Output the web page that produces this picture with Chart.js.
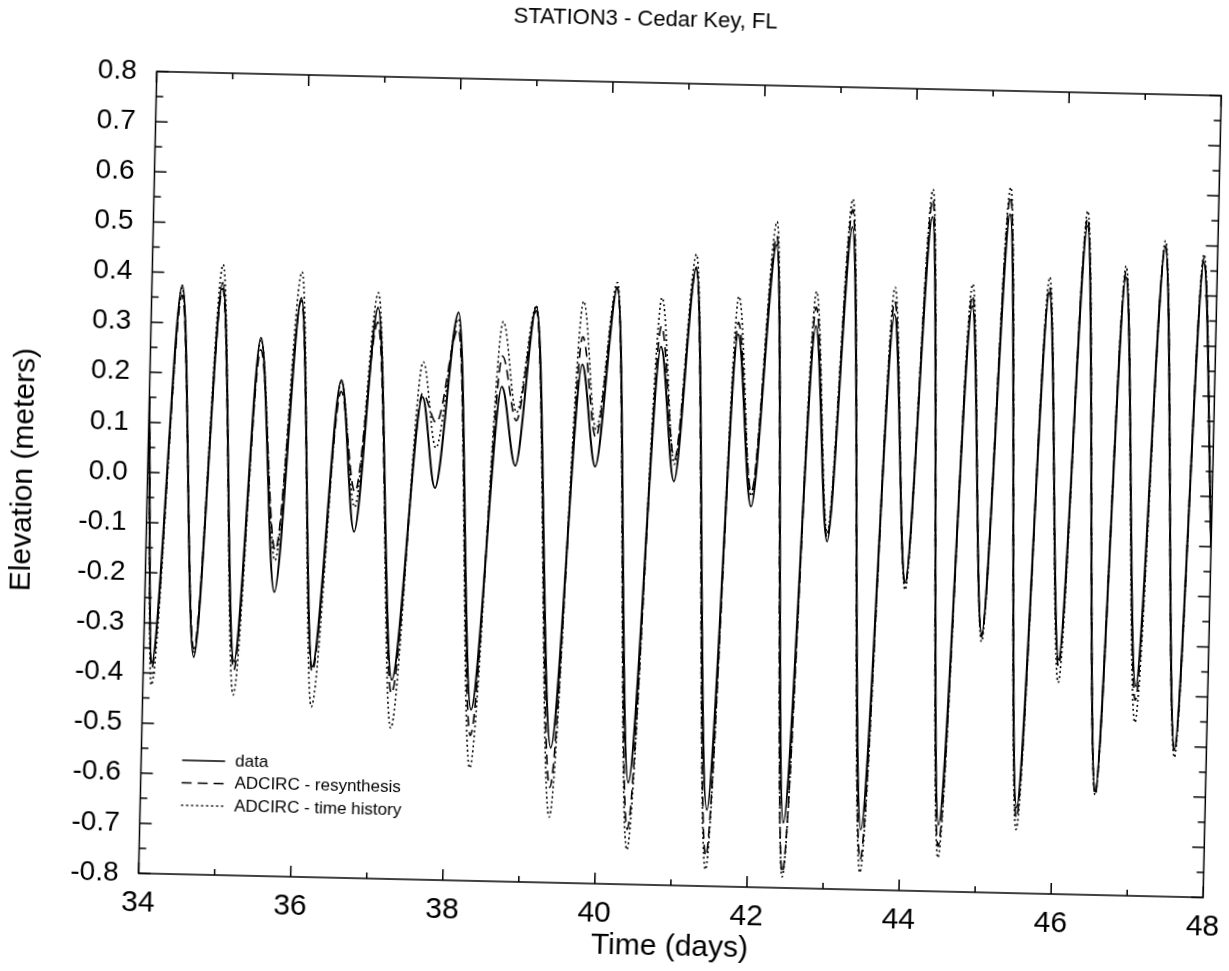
<!DOCTYPE html>
<html>
<head>
<meta charset="utf-8">
<title>STATION3 - Cedar Key, FL</title>
<script src="https://cdn.jsdelivr.net/npm/chart.js@4.4.1/dist/chart.umd.min.js"></script>
<style>
  html, body { margin: 0; padding: 0; background: #fff; overflow: hidden; }
  /* the scanned figure sits tilted about 1.3 degrees clockwise */
  #tideChart { display: block; transform: rotate(1.3deg); }
</style>
</head>
<body>
<canvas id="tideChart" width="1229" height="971"></canvas>
<script>
// turning points of the tide: time (days) and elevation (m)
const times = [
  34.00, 34.11, 34.40, 34.66, 34.93, 35.19, 35.45, 35.70, 35.97, 36.22,
  36.52, 36.73, 36.98, 37.27, 37.59, 37.78, 38.04, 38.32, 38.63, 38.83,
  39.06, 39.38, 39.68, 39.88, 40.12, 40.41, 40.71, 40.92, 41.15, 41.45,
  41.72, 41.94, 42.20, 42.46, 42.74, 42.95, 43.19, 43.48, 43.77, 43.99,
  44.24, 44.50, 44.79, 45.01, 45.26, 45.52, 45.80, 46.03, 46.28, 46.55,
  46.80, 47.05, 47.31, 47.58, 47.82, 48.00
]
const observed = [
  0.15, -0.380, 0.375, -0.366, 0.382, -0.374, 0.274, -0.233, 0.355, -0.380,
  0.193, -0.109, 0.339, -0.403, 0.163, -0.018, 0.333, -0.459, 0.187, 0.030,
  0.348, -0.531, 0.235, 0.032, 0.390, -0.597, 0.274, 0.006, 0.434, -0.648,
  0.302, -0.041, 0.483, -0.670, 0.322, -0.107, 0.521, -0.680, 0.349, -0.185,
  0.545, -0.667, 0.369, -0.285, 0.554, -0.629, 0.400, -0.332, 0.534, -0.593,
  0.434, -0.382, 0.496, -0.506, 0.467, -0.10
]
const resynthesis = [
  0.15, -0.390, 0.355, -0.350, 0.370, -0.390, 0.250, -0.150, 0.350, -0.390,
  0.170, -0.030, 0.310, -0.430, 0.170, 0.112, 0.300, -0.510, 0.248, 0.120,
  0.340, -0.610, 0.290, 0.090, 0.390, -0.690, 0.315, 0.050, 0.430, -0.740,
  0.326, -0.012, 0.500, -0.770, 0.360, -0.100, 0.556, -0.740, 0.375, -0.190,
  0.580, -0.710, 0.390, -0.290, 0.590, -0.650, 0.410, -0.345, 0.550, -0.600,
  0.445, -0.410, 0.500, -0.510, 0.475, -0.10
]
const timeHistory = [
  0.15, -0.424, 0.370, -0.360, 0.418, -0.440, 0.270, -0.170, 0.407, -0.460,
  0.190, -0.060, 0.369, -0.499, 0.233, 0.062, 0.320, -0.575, 0.317, 0.136,
  0.350, -0.669, 0.361, 0.106, 0.400, -0.731, 0.372, 0.040, 0.460, -0.767,
  0.378, -0.020, 0.529, -0.778, 0.391, -0.090, 0.577, -0.766, 0.403, -0.200,
  0.600, -0.733, 0.413, -0.300, 0.608, -0.673, 0.430, -0.378, 0.564, -0.600,
  0.456, -0.454, 0.508, -0.522, 0.483, -0.10
]

const dayTicks = [34, 36, 38, 40, 42, 44, 46, 48]
const elevTicks = [-0.8, -0.7, -0.6, -0.5, -0.4, -0.3, -0.2, -0.1, 0.0,
  0.1, 0.2, 0.3, 0.4, 0.5, 0.6, 0.7, 0.8]

const seriesNames = ['data', 'ADCIRC - resynthesis', 'ADCIRC - time history']

const FONT = "'Liberation Sans', Arial, Helvetica, sans-serif"
Chart.defaults.font.family = FONT
Chart.defaults.color = '#000'

function toPoints (values) {
  return times.map((t, i) => ({ x: t, y: values[i] }))
}

// frame with inward ticks on all four sides, like the original plot
const frameTicks = {
  id: 'frameTicks',
  afterDraw (chart) {
    const { ctx, chartArea: a, scales: { x, y } } = chart
    ctx.save()
    ctx.strokeStyle = '#000'
    ctx.lineWidth = 1.5
    ctx.setLineDash([])
    ctx.strokeRect(a.left, a.top, a.width, a.height)
    ctx.beginPath()
    for (let d = x.min; d <= x.max; d++) {
      const px = x.getPixelForValue(d)
      const len = d % 2 === 0 ? 11 : 6
      ctx.moveTo(px, a.bottom); ctx.lineTo(px, a.bottom - len)
      ctx.moveTo(px, a.top); ctx.lineTo(px, a.top + len)
    }
    for (let i = -16; i <= 16; i++) {
      const py = y.getPixelForValue(i * 0.05)
      const len = i % 2 === 0 ? 12 : 7
      ctx.moveTo(a.left, py); ctx.lineTo(a.left + len, py)
      ctx.moveTo(a.right, py); ctx.lineTo(a.right - len, py)
    }
    ctx.stroke()
    ctx.restore()
  }
}

// small key in the lower left corner of the plot
const cornerLegend = {
  id: 'cornerLegend',
  afterDraw (chart) {
    const { ctx, chartArea: a } = chart
    ctx.save()
    ctx.font = `17px ${FONT}`
    ctx.fillStyle = '#000'
    ctx.textBaseline = 'middle'
    chart.data.datasets.forEach((ds, i) => {
      const yy = a.bottom - 114 + i * 22.5
      ctx.strokeStyle = '#000'
      ctx.lineWidth = 1.3
      ctx.setLineDash(ds.borderDash || [])
      ctx.beginPath()
      ctx.moveTo(a.left + 41, yy)
      ctx.lineTo(a.left + 84, yy)
      ctx.stroke()
      ctx.fillText(ds.label, a.left + 94, yy)
    })
    ctx.restore()
  }
}

const chartTitle = {
  id: 'chartTitle',
  afterDraw (chart) {
    const { ctx } = chart
    ctx.save()
    ctx.font = `22px ${FONT}`
    ctx.fillStyle = '#000'
    ctx.textAlign = 'center'
    ctx.textBaseline = 'middle'
    ctx.fillText('STATION3 - Cedar Key, FL', 635, 19)
    ctx.restore()
  }
}

const lineStyle = {
  borderColor: '#000',
  backgroundColor: '#000',
  pointRadius: 0,
  fill: false,
  cubicInterpolationMode: 'monotone'
}

new Chart(document.getElementById('tideChart'), {
  type: 'line',
  data: {
    datasets: [
      { ...lineStyle, label: seriesNames[0], data: toPoints(observed), borderWidth: 2 },
      { ...lineStyle, label: seriesNames[1], data: toPoints(resynthesis), borderWidth: 1.6, borderDash: [10, 6] },
      { ...lineStyle, label: seriesNames[2], data: toPoints(timeHistory), borderWidth: 1.6, borderDash: [2, 3] }
    ]
  },
  options: {
    responsive: false,
    animation: false,
    devicePixelRatio: 1,
    layout: { padding: { top: 82, right: 16.5, left: 0, bottom: 0 } },
    plugins: {
      legend: { display: false },
      title: { display: false },
      tooltip: { enabled: false }
    },
    scales: {
      x: {
        type: 'linear',
        min: 34,
        max: 48,
        afterBuildTicks: s => { s.ticks = dayTicks.map(v => ({ value: v })) },
        afterFit: s => { s.height = 87 },
        // tick marks are drawn by frameTicks; the hidden tick length only
        // pushes the labels down without widening the side padding
        grid: { display: false, drawTicks: true, tickLength: 12 },
        border: { display: false },
        ticks: { font: { size: 30 }, padding: 0, maxRotation: 0 },
        title: {
          display: true,
          text: 'Time (days)',
          font: { size: 30 },
          padding: { top: 0, bottom: 7 }
        }
      },
      y: {
        type: 'linear',
        min: -0.8,
        max: 0.8,
        afterBuildTicks: s => { s.ticks = elevTicks.map(v => ({ value: v })) },
        afterFit: s => { s.width = 147.5 },
        grid: { display: false, drawTicks: false },
        border: { display: false },
        ticks: {
          font: { size: 28 },
          padding: 20,
          autoSkip: false,
          callback: v => (Math.abs(v) < 1e-9 ? 0 : v).toFixed(1)
        },
        title: {
          display: true,
          text: 'Elevation (meters)',
          font: { size: 30 },
          padding: { top: 6, bottom: 0 }
        }
      }
    }
  },
  plugins: [frameTicks, cornerLegend, chartTitle]
})
</script>
</body>
</html>
